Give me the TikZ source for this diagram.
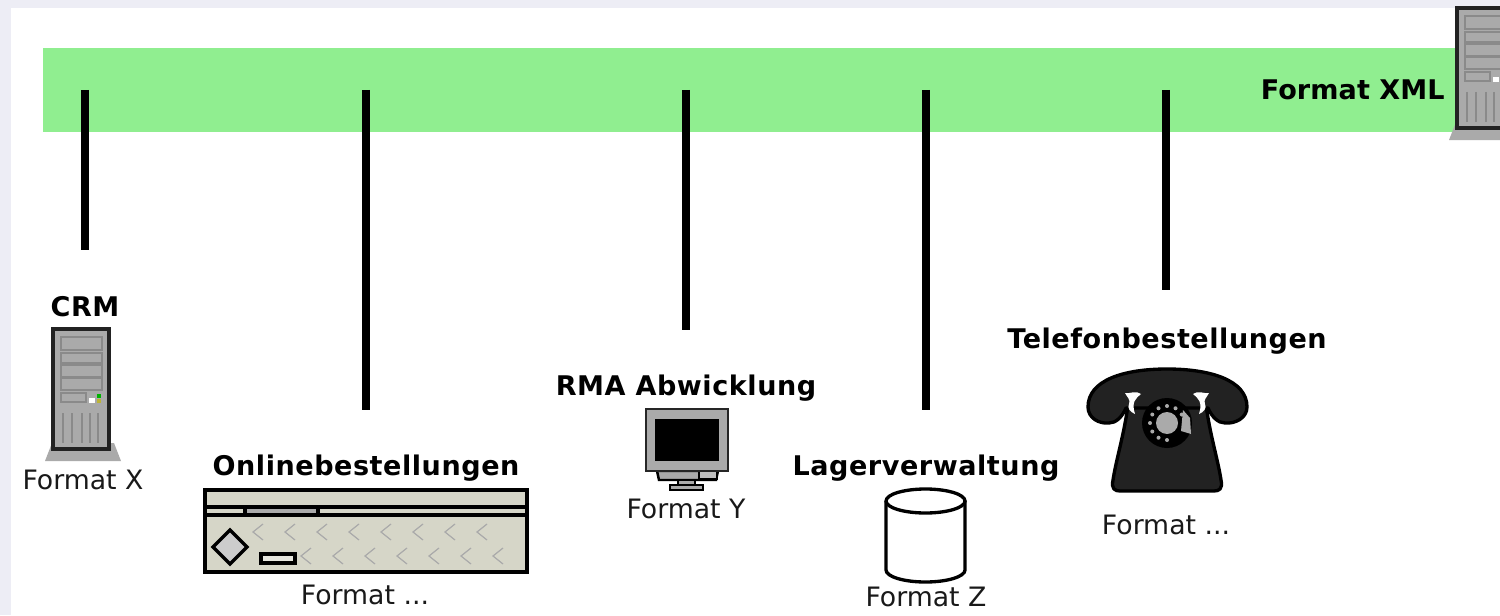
\documentclass[tikz,border=0pt]{standalone}
\usepackage{fontspec}
\setmainfont{DejaVu Sans}
\newfontfamily\boldlabelfont[LetterSpace=2.0]{DejaVu Sans Bold}
\newfontfamily\xmllabelfont[LetterSpace=0.3]{DejaVu Sans Bold}
\definecolor{pagegrey}{HTML}{EDEDF5}
\definecolor{busgreen}{HTML}{90EE90}
\definecolor{casegrey}{HTML}{AAAAAA}
\definecolor{slotgrey}{HTML}{8A8A8A}
\definecolor{drivebeige}{HTML}{D6D6C8}
\definecolor{phoneblack}{HTML}{222222}
\tikzset{
  systemname/.style={font=\boldlabelfont\fontsize{15.4}{18}\selectfont, text=black, inner sep=0pt},
  formatname/.style={font=\fontsize{15.2}{18}\selectfont, text=black!90, inner sep=0pt},
  busline/.style={line width=4.5pt, black},
  iconline/.style={line width=1.9pt, black},
  pics/servertower/.style={code={
    \fill[casegrey] (-8,132) -- (68,132) -- (61,114) -- (-1,114) -- cycle;
    \draw[line width=2.2pt, phoneblack, fill=casegrey] (0,0) rectangle (56,120);
    \draw[line width=0.8pt, slotgrey] (8,8) rectangle (49,21);
    \draw[line width=0.8pt, slotgrey] (8,24) rectangle (49,34);
    \draw[line width=0.8pt, slotgrey] (8,36) rectangle (49,48);
    \draw[line width=0.8pt, slotgrey] (8,49) rectangle (49,61);
    \draw[line width=0.6pt, slotgrey] (8,64) rectangle (33,73);
    \fill[white] (36,69) rectangle (42,74);
    \fill[green!70!black] (44,65) rectangle (48,69);
    \fill[yellow!70!black] (44,70) rectangle (48,74);
    \foreach \ventx in {10,19,29,37,45}
      \draw[line width=1pt, slotgrey] (\ventx,84) -- (\ventx,114);
  }},
}
\begin{document}
\begin{tikzpicture}[x=0.02cm,y=-0.02cm]
\clip (0,0) rectangle (1500,615);
\fill[pagegrey] (0,0) rectangle (1500,615);
\fill[white] (11,8) rectangle (1500,615);
%
\fill[busgreen] (43,48) rectangle (1456,132);
%
\pic at (1457,8) {servertower};
\pic at (53,329) {servertower};
%
\coordinate (crmtop) at (85,90);
\coordinate (crmend) at (85,250);
\coordinate (onlinetop) at (366,90);
\coordinate (onlineend) at (366,410);
\coordinate (rmatop) at (686,90);
\coordinate (rmaend) at (686,330);
\coordinate (lagertop) at (926,90);
\coordinate (lagerend) at (926,410);
\coordinate (telefontop) at (1166,90);
\coordinate (telefonend) at (1166,290);
\draw[busline] (crmtop) -- (crmend);
\draw[busline] (onlinetop) -- (onlineend);
\draw[busline] (rmatop) -- (rmaend);
\draw[busline] (lagertop) -- (lagerend);
\draw[busline] (telefontop) -- (telefonend);
%
\draw[iconline, fill=drivebeige] (205,490) rectangle (527,572);
\draw[iconline] (205,507) -- (527,507);
\draw[iconline] (205,515) -- (527,515);
\draw[iconline, fill=casegrey] (245,507) rectangle (318,515);
\draw[iconline, fill=black!20] (230,530) -- (247,547) -- (230,564) -- (213,547) -- cycle;
\draw[iconline, fill=drivebeige!60!white] (261,554) rectangle (295,563);
\foreach \chevx in {0,...,7}
  \draw[line width=0.7pt, casegrey] (263+32*\chevx,524) -- (253+32*\chevx,532) -- (263+32*\chevx,540);
\foreach \chevx in {0,...,6}
  \draw[line width=0.7pt, casegrey] (311+32*\chevx,548) -- (301+32*\chevx,556) -- (311+32*\chevx,564);
%
\draw[line width=1.4pt, fill=casegrey] (657,471) -- (718,471) -- (716,480) -- (659,480) -- cycle;
\draw[line width=0.8pt, fill=black!25] (699,471) rectangle (717,479);
\draw[line width=1.4pt, fill=casegrey] (678,480) rectangle (695,485);
\draw[line width=1.4pt, fill=casegrey] (670,485) rectangle (703,490);
\draw[line width=1.6pt, black!85, fill=casegrey] (646,409) rectangle (728,471);
\fill[black] (655,419) rectangle (719,461);
%
\draw[iconline, fill=white] (886,501) -- (886,570) arc[start angle=180, end angle=0, x radius=39.5, y radius=12] -- (965,501);
\draw[iconline, fill=white] (925.5,501) ellipse[x radius=39.5, y radius=12];
%
\draw[iconline, fill=phoneblack, line join=round] (1128,405) -- (1206,405)
  .. controls (1210,435) and (1218,460) .. (1221,480)
  .. controls (1223,489) and (1219,491) .. (1214,491) -- (1120,491)
  .. controls (1115,491) and (1111,489) .. (1113,480)
  .. controls (1116,460) and (1124,435) .. (1128,405) -- cycle;
\draw[iconline, fill=phoneblack, line join=round] (1167,369)
  .. controls (1210,369) and (1247,380) .. (1247,407)
  .. controls (1247,418) and (1235,424) .. (1225,423)
  .. controls (1218,423) and (1212,417) .. (1208,408) -- (1126,408)
  .. controls (1122,417) and (1116,423) .. (1109,423)
  .. controls (1099,424) and (1088,418) .. (1088,407)
  .. controls (1088,380) and (1124,369) .. (1167,369) -- cycle;
\fill[white] (1125,393) .. controls (1130,394) and (1136,390) .. (1141,394)
  .. controls (1136,398) and (1131,402) .. (1135,414)
  .. controls (1130,412) and (1127,408) .. (1129,404)
  .. controls (1131,400) and (1127,397) .. (1125,393) -- cycle;
\fill[white] (1209,393) .. controls (1204,394) and (1198,390) .. (1193,394)
  .. controls (1198,398) and (1203,402) .. (1199,414)
  .. controls (1204,412) and (1207,408) .. (1205,404)
  .. controls (1203,400) and (1207,397) .. (1209,393) -- cycle;
\fill[black] (1167,423) circle[radius=25];
\fill[casegrey] (1183,410) -- (1190,418) -- (1191,434) -- (1181,431) -- cycle;
\foreach \dialangle in {30,60,...,300}
  \fill[casegrey] (1167,423) ++(\dialangle+60:17) circle[radius=2];
\fill[casegrey] (1167,423) circle[radius=11];
%
\node[systemname, font=\xmllabelfont\fontsize{15.4}{18}\selectfont, anchor=east] (xmlname) at (1445,90) {Format XML};
\node[systemname] (crmname) at (85,307) {CRM};
\node[formatname] (crmformat) at (83,480) {Format X};
\node[systemname] (onlinename) at (366,468) {Onlinebestellungen};
\node[formatname] (onlineformat) at (365,595) {Format ...};
\node[systemname] (rmaname) at (686,388) {RMA Abwicklung};
\node[formatname] (rmaformat) at (686,509) {Format Y};
\node[systemname] (lagername) at (926,468) {Lagerverwaltung};
\node[formatname] (lagerformat) at (926,597) {Format Z};
\node[systemname] (telefonname) at (1167,341) {Telefonbestellungen};
\node[formatname] (telefonformat) at (1166,525) {Format ...};
\end{tikzpicture}
\end{document}
